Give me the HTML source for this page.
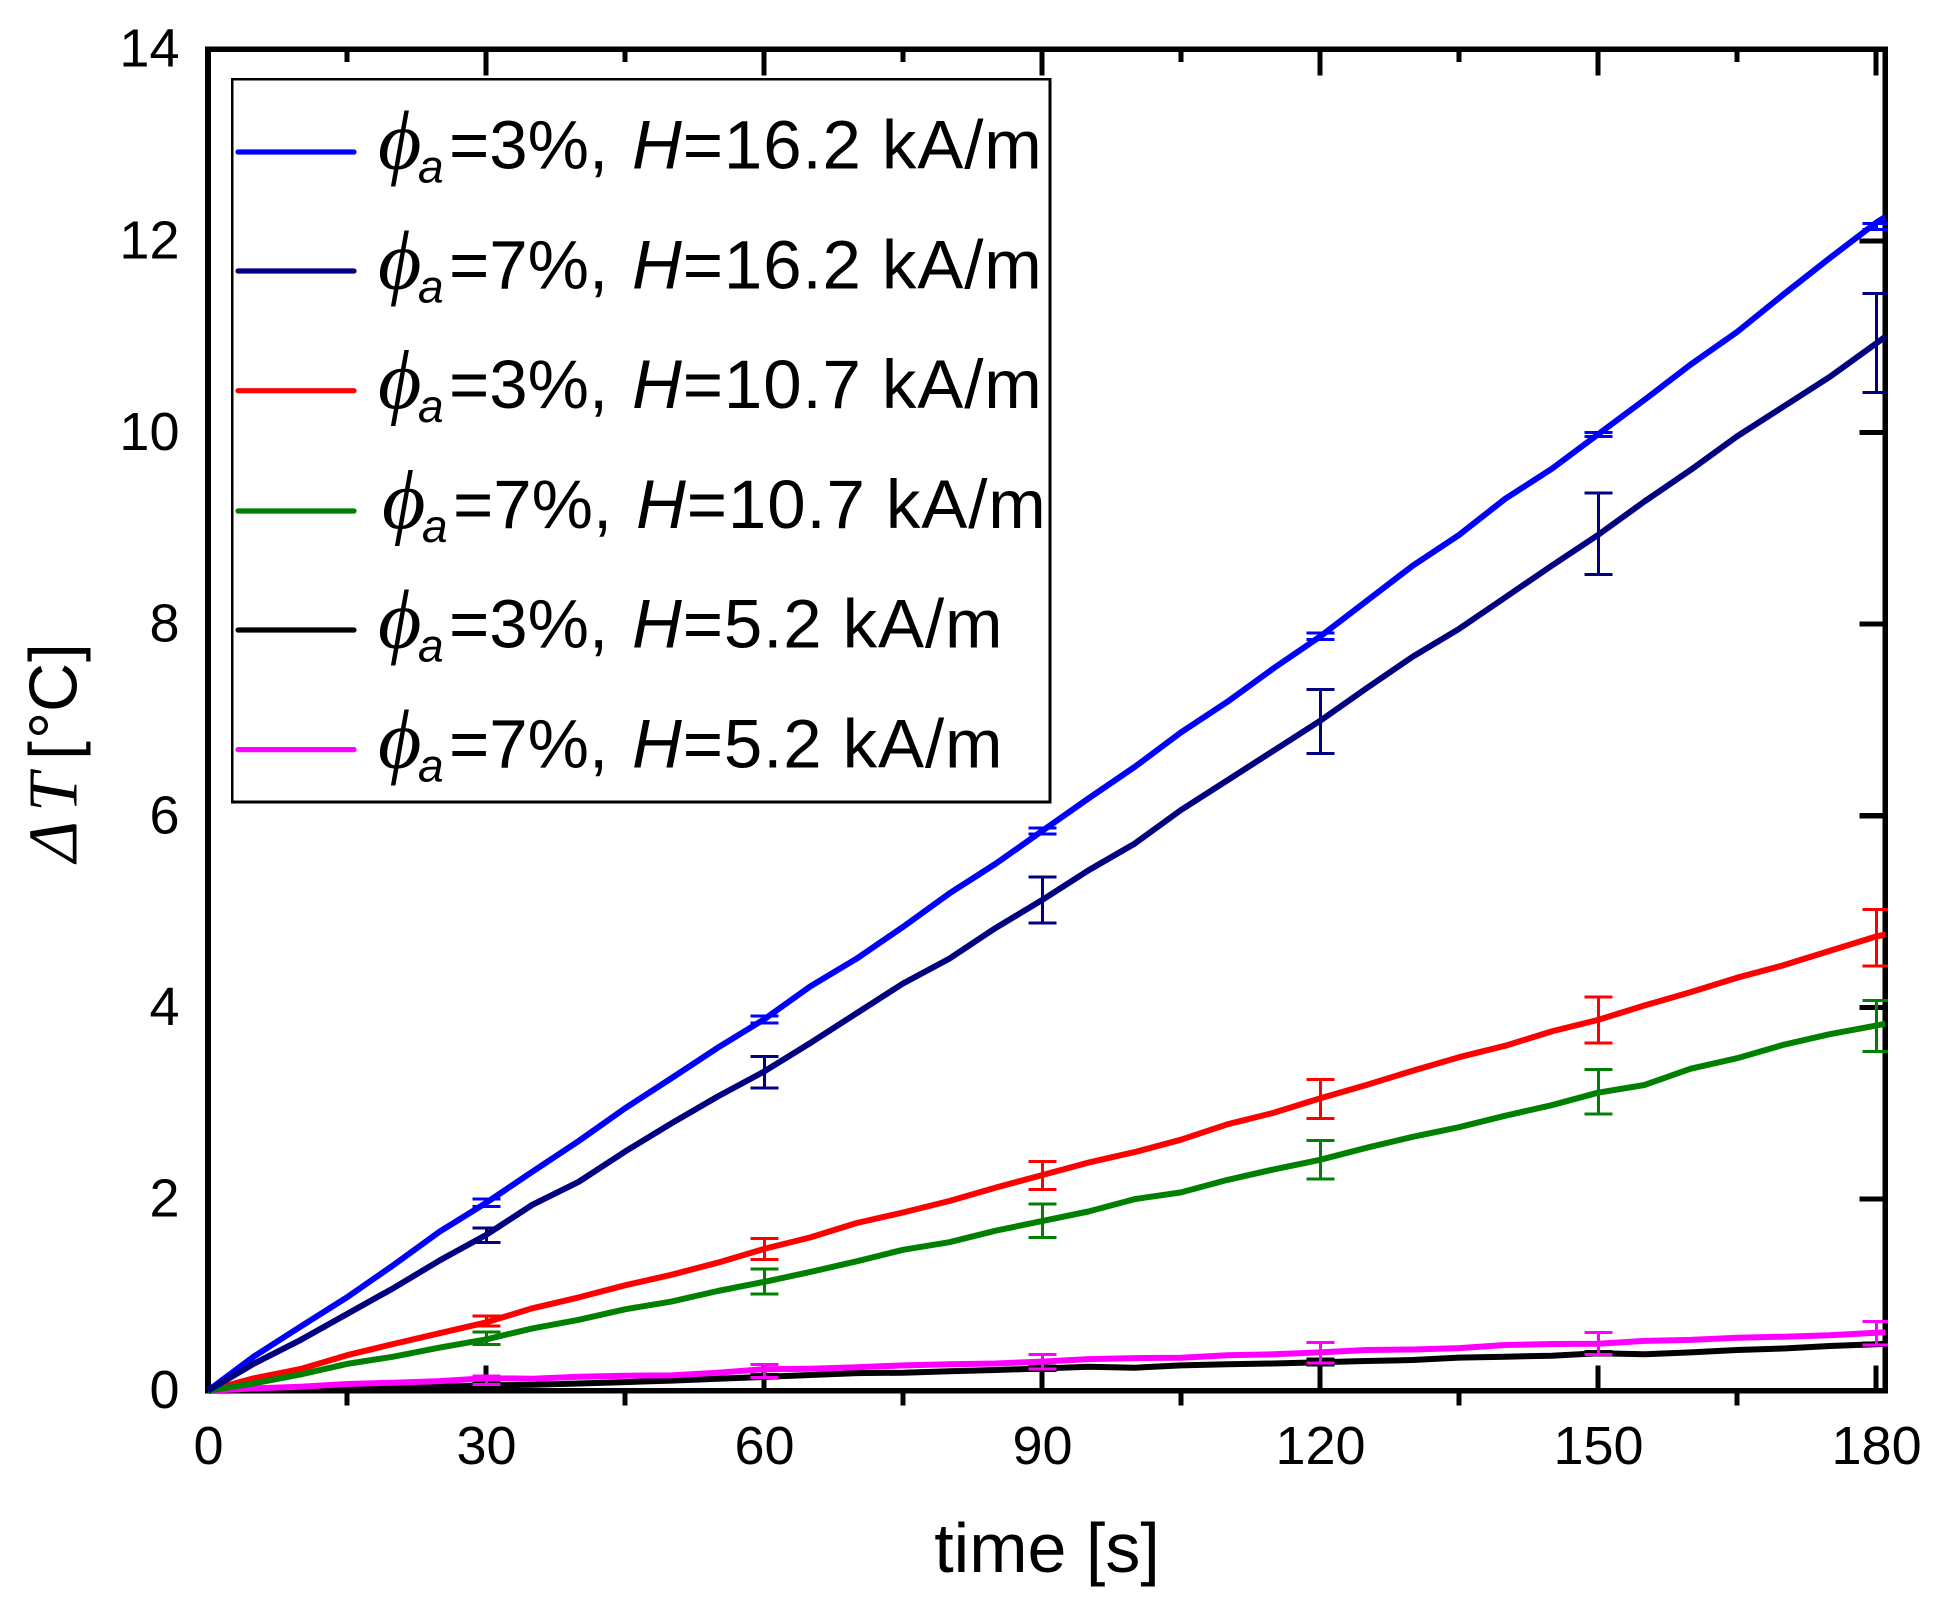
<!DOCTYPE html>
<html lang="en">
<head>
<meta charset="utf-8">
<title>Temperature rise over time</title>
<style>
html,body{margin:0;padding:0;background:#fff;}
svg{display:block;}
text{font-family:"Liberation Sans",sans-serif;fill:#000;}
.num{font-size:54px;}
.lg{font-size:69px;}
.lgh{font-size:69px;letter-spacing:0.9px;}
.sub{font-size:46px;font-style:italic;}
.phi{font-family:"Liberation Serif","DejaVu Serif",serif;font-size:84px;font-style:italic;}
.it{font-style:italic;}
.ser{font-family:"Liberation Serif",serif;font-style:italic;font-size:70px;}
</style>
</head>
<body>
<svg id="chart" xmlns="http://www.w3.org/2000/svg" width="1937" height="1604" viewBox="0 0 1937 1604">
  <rect x="0" y="0" width="1937" height="1604" fill="#fff"/>
  <defs><clipPath id="plot-clip"><rect x="200" y="40" width="1688" height="1356"/></clipPath></defs>
  <g id="ticks"></g>
  <rect x="208" y="49.2" width="1677.4" height="1341.5" fill="none" stroke="#000" stroke-width="5.6" shape-rendering="crispEdges"/>
  <g id="tick-labels"></g>
  <g id="series" clip-path="url(#plot-clip)"></g>

  <text x="1047" y="1572" font-size="70" text-anchor="middle">time [s]</text>
  <text transform="translate(76.7,862) rotate(-90)"><tspan class="ser" x="0" y="0">&#916;</tspan><tspan class="ser" x="50" y="0">T</tspan><tspan font-size="68" x="102" y="0">[</tspan><tspan font-size="68" x="123" y="0">°</tspan><tspan font-size="68" x="150" y="0">C</tspan><tspan font-size="68" x="200" y="0">]</tspan></text>

  <g>
    <rect x="232.2" y="79.4" width="817.8" height="722.6" fill="#fff" stroke="#000" stroke-width="2.6" shape-rendering="crispEdges"/>

    <g>
      <line x1="238" x2="354" y1="152" y2="152" stroke="#0000ff" stroke-width="5.2" stroke-linecap="round"/>
      <text class="phi" x="378" y="168.5">&#981;</text><text class="sub" x="418" y="182.5">a</text>
      <text class="lg" x="449" y="168.5">=3%,</text><text class="lgh" x="632" y="168.5"><tspan class="it">H</tspan>=16.2 kA/m</text>
    </g>
    <g>
      <line x1="238" x2="354" y1="271" y2="271" stroke="#000080" stroke-width="5.2" stroke-linecap="round"/>
      <text class="phi" x="378" y="288.3">&#981;</text><text class="sub" x="418" y="302.3">a</text>
      <text class="lg" x="449" y="288.3">=7%,</text><text class="lgh" x="632" y="288.3"><tspan class="it">H</tspan>=16.2 kA/m</text>
    </g>
    <g>
      <line x1="238" x2="354" y1="390.7" y2="390.7" stroke="#ff0000" stroke-width="5.2" stroke-linecap="round"/>
      <text class="phi" x="378" y="408.1">&#981;</text><text class="sub" x="418" y="422.1">a</text>
      <text class="lg" x="449" y="408.1">=3%,</text><text class="lgh" x="632" y="408.1"><tspan class="it">H</tspan>=10.7 kA/m</text>
    </g>
    <g>
      <line x1="238" x2="354" y1="511" y2="511" stroke="#008000" stroke-width="5.2" stroke-linecap="round"/>
      <text class="phi" x="382" y="527.9">&#981;</text><text class="sub" x="422" y="541.9">a</text>
      <text class="lg" x="453" y="527.9">=7%,</text><text class="lgh" x="636" y="527.9"><tspan class="it">H</tspan>=10.7 kA/m</text>
    </g>
    <g>
      <line x1="238" x2="354" y1="630" y2="630" stroke="#000000" stroke-width="5.2" stroke-linecap="round"/>
      <text class="phi" x="378" y="647.7">&#981;</text><text class="sub" x="418" y="661.7">a</text>
      <text class="lg" x="449" y="647.7">=3%,</text><text class="lgh" x="632" y="647.7"><tspan class="it">H</tspan>=5.2 kA/m</text>
    </g>
    <g>
      <line x1="238" x2="354" y1="749.6" y2="749.6" stroke="#ff00ff" stroke-width="5.2" stroke-linecap="round"/>
      <text class="phi" x="378" y="767.5">&#981;</text><text class="sub" x="418" y="781.5">a</text>
      <text class="lg" x="449" y="767.5">=7%,</text><text class="lgh" x="632" y="767.5"><tspan class="it">H</tspan>=5.2 kA/m</text>
    </g>
  </g>
</svg>
<script>
var xMajorTicks = [0, 30, 60, 90, 120, 150, 180];
var xMinorTicks = [15, 45, 75, 105, 135, 165];
var yMajorTicks = [0, 2, 4, 6, 8, 10, 12, 14];

var times = [0,5,10,15,20,25,30,35,40,45,50,55,60,65,70,75,80,85,90,95,100,105,110,115,120,125,130,135,140,145,150,155,160,165,170,175,180,181];
var errTimes = [30,60,90,120,150,180];

var blueValues = [0,.36,.67,.975,1.31,1.66,1.96,2.285,2.606,2.947,3.26,3.58,3.875,4.22,4.51,4.84,5.19,5.50,5.84,6.18,6.51,6.87,7.19,7.54,7.87,8.24,8.61,8.93,9.31,9.62,9.98,10.34,10.71,11.05,11.44,11.82,12.19,12.25];
var navyValues = [0,.285,.53,.80,1.07,1.36,1.625,1.94,2.18,2.495,2.79,3.07,3.33,3.63,3.94,4.25,4.51,4.83,5.12,5.43,5.71,6.06,6.37,6.68,6.99,7.33,7.66,7.95,8.28,8.61,8.93,9.28,9.61,9.96,10.27,10.58,10.93,11.0];
var redValues = [0,.13,.226,.37,.487,.60,.713,.86,.974,1.10,1.21,1.336,1.48,1.60,1.75,1.86,1.98,2.12,2.25,2.38,2.49,2.62,2.78,2.90,3.05,3.19,3.34,3.48,3.60,3.75,3.87,4.02,4.16,4.31,4.44,4.59,4.74,4.76];
var greenValues = [0,.077,.17,.28,.355,.45,.535,.65,.74,.85,.93,1.04,1.135,1.24,1.35,1.47,1.55,1.67,1.77,1.87,2.00,2.07,2.20,2.31,2.41,2.535,2.65,2.75,2.87,2.98,3.11,3.19,3.36,3.47,3.61,3.72,3.81,3.83];
var blackValues = [0,.004,.012,.022,.032,.042,.055,.062,.075,.09,.105,.125,.144,.164,.184,.188,.204,.216,.232,.25,.24,.264,.276,.284,.296,.31,.32,.345,.355,.365,.39,.38,.40,.425,.44,.466,.485,.49];
var magentaValues = [0,.024,.042,.07,.083,.10,.13,.125,.146,.157,.16,.188,.224,.23,.244,.264,.276,.284,.304,.33,.34,.344,.37,.38,.40,.425,.43,.445,.477,.487,.49,.52,.53,.553,.564,.578,.604,.61];

var blueHigh = [2.0,3.91,5.87,7.905,10.0,12.18];
var blueLow = [1.92,3.84,5.81,7.84,9.96,12.12];
var navyHigh = [1.70,3.49,5.36,7.32,9.37,11.45];
var navyLow = [1.545,3.16,4.88,6.65,8.52,10.42];
var redHigh = [.78,1.59,2.39,3.25,4.11,5.02];
var redLow = [.675,1.37,2.10,2.84,3.63,4.43];
var greenHigh = [.61,1.27,1.95,2.61,3.35,4.07];
var greenLow = [.48,1.01,1.60,2.21,2.89,3.54];
var blackHigh = [.095,.17,.26,.33,.41,.50];
var blackLow = [.04,.13,.21,.27,.37,.47];
var magentaHigh = [.153,.276,.38,.503,.607,.72];
var magentaLow = [.067,.14,.226,.29,.377,.477];

var NS = 'http://www.w3.org/2000/svg';
var X0 = 208, PX_PER_S = 9.267;
var Y0 = 1390.7, PX_PER_DEG = 95.82;
function xScale(t) { return X0 + t * PX_PER_S; }
function yScale(v) { return Y0 - v * PX_PER_DEG; }

function seg(parent, x1, y1, x2, y2, color, width, crisp) {
  var l = document.createElementNS(NS, 'line');
  l.setAttribute('x1', x1);
  l.setAttribute('y1', y1);
  l.setAttribute('x2', x2);
  l.setAttribute('y2', y2);
  l.setAttribute('stroke', color);
  l.setAttribute('stroke-width', width);
  if (crisp) l.setAttribute('shape-rendering', 'crispEdges');
  parent.appendChild(l);
  return l;
}
function label(parent, x, y, str, anchor) {
  var t = document.createElementNS(NS, 'text');
  t.setAttribute('class', 'num');
  t.setAttribute('x', x);
  t.setAttribute('y', y);
  t.setAttribute('text-anchor', anchor);
  t.textContent = str;
  parent.appendChild(t);
  return t;
}

var ticksG = document.getElementById('ticks');
var labelsG = document.getElementById('tick-labels');

xMajorTicks.forEach(function (t) {
  var x = xScale(t);
  if (t > 0) {
    var bottomTick = seg(ticksG, x, Y0, x, Y0 - 25, '#000', 5.2, true);
    
    
    var topTick = seg(ticksG, x, 49.2, x, 75.5, '#000', 5.2, true);
    
    
  }
  var lab = label(labelsG, x + 0.5, 1464, String(t), 'middle');
  
  
});
xMinorTicks.forEach(function (t) {
  var x = xScale(t);
  var bottomMinor = seg(ticksG, x, Y0, x, Y0 + 15, '#000', 5.2, true);
  
  
  var topMinor = seg(ticksG, x, 49.2, x, 62, '#000', 5.2, true);
  
  
});
yMajorTicks.forEach(function (v) {
  var y = yScale(v);
  if (v > 0 && v < 14) {
    var rightTick = seg(ticksG, 1885.4, y, 1859.5, y, '#000', 5.2, true);
    
    
  }
  var lab = label(labelsG, 179.5, y + 17.5, String(v), 'end');
  
  
});

var seriesG = document.getElementById('series');
function drawSeries(values, highs, lows, color) {
  var g = document.createElementNS(NS, 'g');
  var pts = times.map(function (t, i) {
    return xScale(t).toFixed(1) + ',' + yScale(values[i]).toFixed(1);
  }).join(' ');
  var line = document.createElementNS(NS, 'polyline');
  line.setAttribute('points', pts);
  line.setAttribute('fill', 'none');
  line.setAttribute('stroke', color);
  line.setAttribute('stroke-width', '6');
  line.setAttribute('stroke-linejoin', 'round');
  
  
  g.appendChild(line);
  errTimes.forEach(function (t, i) {
    var x = xScale(t) + 0.6;
    var yh = yScale(highs[i]);
    var yl = yScale(lows[i]);
    var stem = seg(g, x, yh, x, yl, color, 3, true);
    
    
    var capTop = seg(g, x - 14, yh, x + 14, yh, color, 3, true);
    
    
    var capBottom = seg(g, x - 14, yl, x + 14, yl, color, 3, true);
    
    
  });
  seriesG.appendChild(g);
  return g;
}

var blackGroup = drawSeries(blackValues, blackHigh, blackLow, '#000000');


var magentaGroup = drawSeries(magentaValues, magentaHigh, magentaLow, '#ff00ff');


var redGroup = drawSeries(redValues, redHigh, redLow, '#ff0000');


var greenGroup = drawSeries(greenValues, greenHigh, greenLow, '#008000');


var blueGroup = drawSeries(blueValues, blueHigh, blueLow, '#0000ff');


var navyGroup = drawSeries(navyValues, navyHigh, navyLow, '#000080');


</script>
</body>
</html>
